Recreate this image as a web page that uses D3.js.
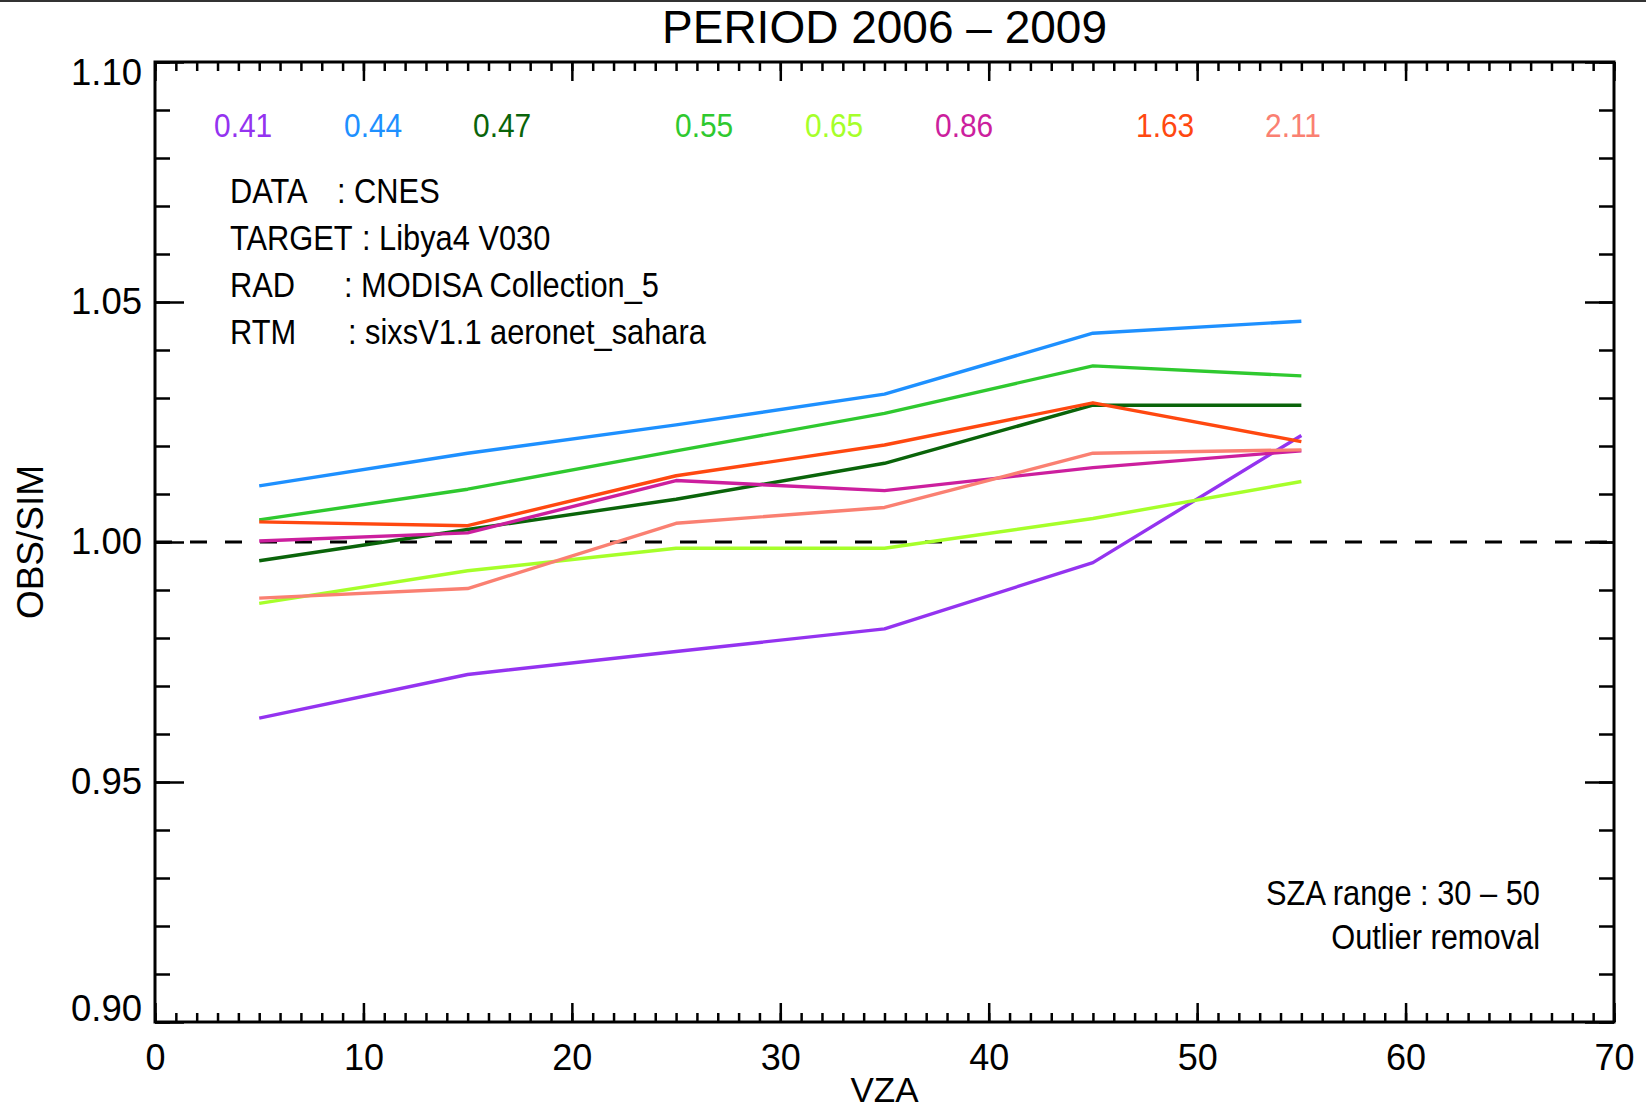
<!DOCTYPE html>
<html>
<head>
<meta charset="utf-8">
<script src="https://cdn.jsdelivr.net/npm/d3@7"></script>
<style>
	body { margin: 0; background: #fff; }
	svg { display: block; font-family: "Liberation Sans", Arial, Helvetica, sans-serif; }
	.tick text { font-family: "Liberation Sans", Arial, sans-serif; fill: #000; }
</style>
</head>
<body>
<svg id="chart" width="1646" height="1112"></svg>
<script>
// =============================
// OBS/SIM vs VZA per band, Libya4 2006-2009
// =============================

// x positions (VZA bins)
const vza = [5, 15, 25, 35, 45, 55];

// band names (microns)
const bands = ["0.41", "0.44", "0.47", "0.55", "0.65", "0.86", "1.63", "2.11"];

// OBS/SIM ratio per band, one value per VZA bin
const b041 = [0.9633, 0.9724, 0.9772, 0.9819, 0.9957, 1.0222];
const b044 = [1.0117, 1.0185, 1.0244, 1.0308, 1.0435, 1.0460];
const b047 = [0.9961, 1.0026, 1.0089, 1.0164, 1.0285, 1.0285];
const b055 = [1.0046, 1.0110, 1.0190, 1.0268, 1.0367, 1.0346];
const b065 = [0.9872, 0.9940, 0.9987, 0.9987, 1.0049, 1.0126];
const b086 = [1.0002, 1.0019, 1.0128, 1.0107, 1.0155, 1.0190];
const b163 = [1.0042, 1.0034, 1.0138, 1.0202, 1.0290, 1.0209];
const b211 = [0.9883, 0.9903, 1.0039, 1.0072, 1.0185, 1.0192];
const series = [b041, b044, b047, b055, b065, b086, b163, b211];

// tick values
const xMajor = [0, 10, 20, 30, 40, 50, 60, 70];
const yMajor = [0.90, 0.95, 1.00, 1.05, 1.10];

// info lines
const infoKeys = ["DATA", "TARGET", "RAD", "RTM"];
const infoVals = [": CNES", ": Libya4 V030", ": MODISA Collection_5", ": sixsV1.1 aeronet_sahara"];

// colours and legend label positions (styling, not data)
const colors = ["#9433f0", "#1e90ff", "#0a640a", "#2fc92f", "#a6ff2a", "#cc1f9e", "#ff4810", "#fa8072"];
const legendX = [214, 344, 473, 675, 805, 935, 1136, 1265];
const infoColonX = [337, 362, 344, 348];

const margin = {top: 62, right: 32, bottom: 90, left: 155};
const svg = d3.select("#chart"),
	  width = +svg.attr("width"),
	  height = +svg.attr("height"),
	  innerWidth = width - margin.left - margin.right,
	  innerHeight = height - margin.top - margin.bottom,
	  narrow = 0.88; // annotations use a condensed face

const x = d3.scaleLinear().domain([0, 70]).range([0, innerWidth]);
const y = d3.scaleLinear().domain([0.90, 1.10]).range([innerHeight, 0]);

// thin dark strip at the very top of the picture
svg.append("rect").attr("x", 0).attr("y", 0).attr("width", width).attr("height", 2).attr("fill", "#333");

const g = svg.append("g").attr("transform", `translate(${margin.left},${margin.top})`);

// Axes: major and minor ticks, all pointing inward
const xMinor = d3.range(0, 71, 1);
const yMinor = d3.range(0.90, 1.1001, 0.01);

function styleAxis(sel) {
	sel.select(".domain").remove();
	sel.selectAll(".tick line").attr("stroke", "#000").attr("stroke-width", 2.5);
}
// tick-only axes: drop the empty label nodes
function ticksOnly(sel) {
	styleAxis(sel);
	sel.selectAll(".tick text").remove();
}

g.append("g").attr("transform", `translate(0,${innerHeight})`)
	.call(d3.axisBottom(x).tickValues(xMinor).tickSize(-9))
	.call(ticksOnly);
g.append("g").attr("transform", `translate(0,${innerHeight})`)
	.call(d3.axisBottom(x).tickValues(xMajor).tickSize(-19).tickPadding(22).tickFormat(d3.format("d")))
	.call(styleAxis)
	.selectAll("text").style("font-size", "36px");

g.append("g")
	.call(d3.axisTop(x).tickValues(xMinor).tickSize(-9))
	.call(ticksOnly);
g.append("g")
	.call(d3.axisTop(x).tickValues(xMajor).tickSize(-19))
	.call(ticksOnly);

g.append("g")
	.call(d3.axisLeft(y).tickValues(yMinor).tickSize(-15))
	.call(ticksOnly);
const yAx = g.append("g")
	.call(d3.axisLeft(y).tickValues(yMajor).tickSize(-29).tickPadding(13).tickFormat(d3.format(".2f")))
	.call(styleAxis);
yAx.selectAll("text").style("font-size", "36.5px");
// end labels are nudged inside the frame like in the original
yAx.selectAll("text").filter(d => d === 1.10).attr("dy", "0.62em");
yAx.selectAll("text").filter(d => d === 0.90).attr("dy", "-0.05em");

g.append("g").attr("transform", `translate(${innerWidth},0)`)
	.call(d3.axisRight(y).tickValues(yMinor).tickSize(-15))
	.call(ticksOnly);
g.append("g").attr("transform", `translate(${innerWidth},0)`)
	.call(d3.axisRight(y).tickValues(yMajor).tickSize(-29))
	.call(ticksOnly);

// Reference line at 1
g.append("line")
	.attr("x1", 0).attr("x2", innerWidth)
	.attr("y1", y(1)).attr("y2", y(1))
	.attr("stroke", "#000").attr("stroke-width", 3)
	.attr("stroke-dasharray", "17,18");

// Plot the band lines
const line = d3.line().x((d, i) => x(vza[i])).y(d => y(d));
g.selectAll(".band")
	.data(series)
	.enter()
	.append("path")
	.attr("class", "band")
	.attr("d", line)
	.attr("fill", "none")
	.attr("stroke", (d, i) => colors[i])
	.attr("stroke-width", 3.4)
	.attr("stroke-linejoin", "round");

// Frame
g.append("rect")
	.attr("width", innerWidth).attr("height", innerHeight)
	.attr("fill", "none").attr("stroke", "#000").attr("stroke-width", 3);

// Condensed text helper (absolute page coords): squeeze glyphs via textLength
function narrowText(txt, px, py, anchor, color, size) {
	const t = svg.append("text")
		.attr("x", px).attr("y", py)
		.attr("text-anchor", anchor || "start")
		.attr("fill", color || "#000")
		.style("font-size", (size || 35) + "px")
		.text(txt);
	const len = t.node().getComputedTextLength();
	t.attr("textLength", len * narrow).attr("lengthAdjust", "spacingAndGlyphs");
	return t;
}

// Band legend
bands.forEach((b, i) => narrowText(b, legendX[i], 137, "start", colors[i], 34));

// Info block
infoKeys.forEach((k, i) => {
	narrowText(k, 230, 203 + i * 47);
	narrowText(infoVals[i], infoColonX[i], 203 + i * 47);
});

// Bottom-right notes
narrowText("SZA range : 30 \u2013 50", 1540, 905, "end");
narrowText("Outlier removal", 1540, 949, "end");

// Title and axis titles
svg.append("text")
	.attr("x", margin.left + innerWidth / 2).attr("y", 43)
	.attr("text-anchor", "middle")
	.style("font-size", "46px")
	.text("PERIOD 2006 \u2013 2009");

svg.append("text")
	.attr("x", margin.left + innerWidth / 2).attr("y", 1102)
	.attr("text-anchor", "middle")
	.style("font-size", "35px")
	.text("VZA");

svg.append("g")
	.attr("transform", `translate(43,${margin.top + y(1)}) rotate(-90)`)
	.append("text")
	.attr("text-anchor", "middle")
	.style("font-size", "37px")
	.text("OBS/SIM");
</script>
</body>
</html>
